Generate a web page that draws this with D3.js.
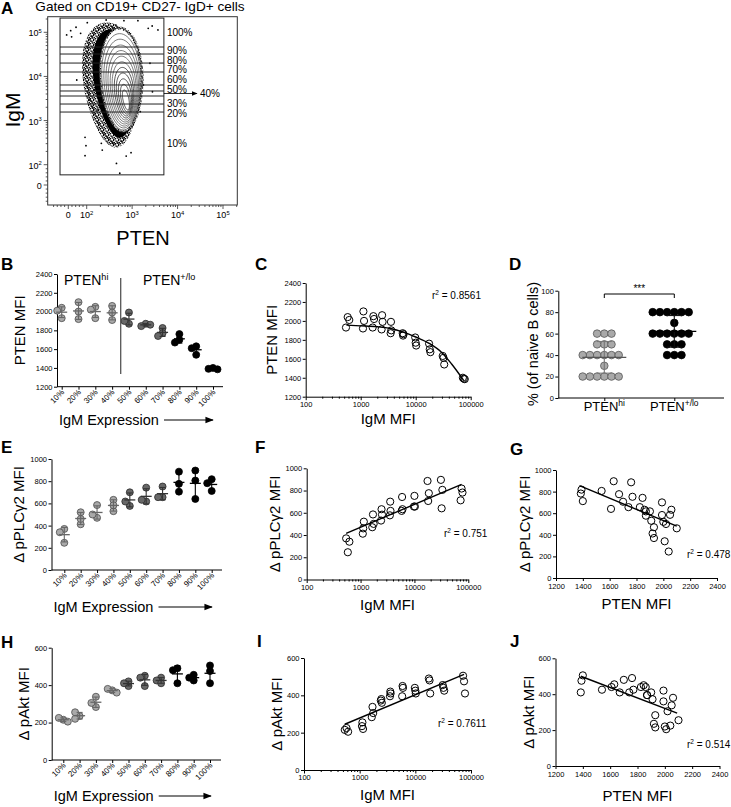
<!DOCTYPE html>
<html>
<head>
<meta charset="utf-8">
<title>PTEN and IgM in naive B cells</title>
<script src="https://d3js.org/d3.v7.min.js"></script>
<style>
  body { margin: 0; background: #fff; }
  text { font-family: "Liberation Sans", Arial, Helvetica, sans-serif; fill: #000; }
</style>
</head>
<body>
<script>
// ---------------- data ----------------
var pctGroups = ["10%", "20%", "30%", "40%", "50%", "60%", "70%", "80%", "90%", "100%"];

// three donors per IgM bin
var igmMFI = [
  [540, 580, 620], [1100, 1120, 1150], [1650, 1700, 1750], [2400, 2450, 2500],
  [3500, 3550, 3600], [5800, 5900, 6000], [9800, 10000, 10200],
  [17500, 18000, 18500], [31000, 32000, 33000], [72000, 75000, 78000]
];
var ptenMFI = [
  [1930, 2040, 2010], [1920, 2100, 2000], [1930, 2050, 2020], [1910, 2060, 1990],
  [1870, 1990, 1900], [1870, 1845, 1860], [1825, 1770, 1740],
  [1760, 1700, 1670], [1630, 1610, 1540], [1400, 1390, 1385]
];
var pplcg2MFI = [
  [370, 245, 340], [412, 460, 520], [470, 585, 500], [530, 632, 583],
  [577, 700, 617], [617, 742, 632], [656, 752, 656],
  [886, 706, 776], [896, 640, 806], [712, 818, 782]
];
var paktMFI = [
  [215, 225, 205], [235, 255, 220], [283, 338, 305], [372, 380, 360],
  [395, 420, 410], [395, 450, 440], [440, 425, 410],
  [490, 480, 410], [455, 440, 425], [505, 475, 410]
];

// fitted curves / lines as drawn
var ptenIgmFit = [[550, 1955], [1000, 1948], [2000, 1938], [3500, 1920], [5800, 1885],
  [10000, 1830], [18000, 1760], [30000, 1665], [45000, 1545], [75000, 1370]];
var plcIgmFit = [[540, 415], [75000, 855]];
var plcPtenFit = [[1375, 855], [2100, 480]];
var aktIgmFit = [[540, 245], [75000, 512]];
var aktPtenFit = [[1385, 500], [2090, 295]];
var r2 = { C: "0.8561", F: "0.751", G: "0.478", I: "0.7611", J: "0.514" };

// panel D: % of naive B cells
var dGroups = ["hi", "lo"];
var dHi = [60, 60, 60, 50, 50, 50, 40, 40, 40, 40, 40, 40, 30, 20, 20, 20, 20, 20, 20];
var dLo = [40, 40, 40, 50, 50, 50, 60, 60, 60, 60, 60, 60, 70, 80, 80, 80, 80, 80, 80];

// panel A: flow plot
var gateLabels = ["100%", "90%", "80%", "70%", "60%", "50%", "40%", "30%", "20%", "10%"];
var gateIgM = [210000, 46400, 32200, 20100, 12600, 6400, 4680, 3600, 2370, 1560, 50];
var gatePTEN = [-45, 5000];
var flowMajor = [0, 1e2, 1e3, 1e4, 1e5];
var flowMinor = [-80, -60, -40, -20, 20, 40, 60, 80,
  200, 300, 400, 500, 600, 700, 800, 900, 2000, 3000, 4000, 5000, 6000, 7000, 8000, 9000,
  20000, 30000, 40000, 50000, 60000, 70000, 80000, 90000, 200000];
// contour levels: [PTEN centre, IgM centre, PTEN half-width (decades), IgM half-height (decades)]
var contours = [
  [569, 8300, 0.462, 1.178], [583, 7550, 0.427, 1.092], [596, 6890, 0.390, 1.006],
  [611, 6220, 0.354, 0.918], [624, 5680, 0.319, 0.832], [640, 5160, 0.282, 0.746],
  [652, 4700, 0.247, 0.659], [668, 4280, 0.209, 0.573], [683, 3900, 0.174, 0.487],
  [700, 3520, 0.139, 0.399], [715, 3210, 0.101, 0.313], [733, 2920, 0.066, 0.227]
];
// extent of the dense dot cloud: speckled rim, solid core
var dotCloud = [[350, 6400, 0.56, 1.36], [420, 6900, 0.46, 1.23]];
var outliers = [[-9, 87000], [13, 109000], [42, 130000], [103, 165000], [268, 190000], [660, 183000],
  [1340, 183000], [2260, 123000], [2760, 139000], [2470, 19900], [2800, 4500], [193, 2140],
  [169, 1740], [91, 418], [96, 270], [91, 160], [220, 215], [452, 107], [740, 157], [946, 187],
  [535, 58], [67, 95000], [1770, 6400], [1510, 1590], [150, 4930], [118, 2920], [439, 146000],
  [3700, 113000], [210, 305], [370, 305], [18, 79000], [46, 8300]];

var logTicks = [100, 1000, 10000, 100000];
var logMinor = [200, 300, 400, 500, 600, 700, 800, 900, 2000, 3000, 4000, 5000, 6000, 7000, 8000, 9000,
  20000, 30000, 40000, 50000, 60000, 70000, 80000, 90000];

// ---------------- drawing ----------------
var svg = d3.select("body").append("svg").attr("width", 731).attr("height", 807);

var defs = svg.append("defs");
defs.append("marker").attr("id", "arr").attr("viewBox", "0 0 10 10").attr("refX", 9).attr("refY", 5)
  .attr("markerWidth", 7).attr("markerHeight", 7).attr("orient", "auto")
  .append("path").attr("d", "M0,1L10,5L0,9Z").attr("fill", "#000");
var speck = defs.append("pattern").attr("id", "speck").attr("width", 5).attr("height", 5)
  .attr("patternUnits", "userSpaceOnUse");
[[1, 1], [3.5, 0.5], [2.5, 3], [0.5, 3.8], [4.3, 2.6], [2, 1.8], [3.8, 4.3]].forEach(function (p) {
  speck.append("circle").attr("cx", p[0]).attr("cy", p[1]).attr("r", 0.8).attr("fill", "#000");
});

function rich(x, y, parts, size, anchor, rot, weight) {
  var t = svg.append("text").attr("font-size", size).attr("text-anchor", anchor || "start");
  if (weight) t.attr("font-weight", weight);
  if (rot) t.attr("transform", "translate(" + x + "," + y + ") rotate(" + rot + ")");
  else t.attr("x", x).attr("y", y);
  var up = false;
  parts.forEach(function (p) {
    var s = t.append("tspan").text(p[0]);
    if (p[1]) { s.attr("font-size", size * 0.65).attr("dy", -size * 0.38); up = true; }
    else if (up) { s.attr("dy", size * 0.38); up = false; }
  });
  return t;
}

function panelLetter(x, y, l) { rich(x, y, [[l]], 17, "start", 0, "bold"); }

var intFmt = d3.format("d");
function yAxis(y, x, ticks) {
  var a = svg.append("g").attr("transform", "translate(" + x + ",0)")
    .call(d3.axisLeft(y).tickValues(ticks).tickFormat(intFmt).tickSize(3).tickSizeOuter(0).tickPadding(1.5));
  a.attr("font-size", 7.5);
  return a;
}

function fillOf(i) { return i < 4 ? "#a9a9a9" : (i < 7 ? "#686868" : "#000"); }
function strokeOf(i) { return i < 4 ? "#4a4a4a" : (i < 7 ? "#2a2a2a" : "#000"); }
function barOf(i) { return i < 4 ? "#666" : (i < 7 ? "#333" : "#000"); }

// spread points of a column so that circles do not sit on top of each other
function swarm(vals, y, step, minDist) {
  var placed = [];
  return vals.map(function (v) {
    var py = y(v), ks = [0, -1, 1, -2, 2, -3, 3, -4, 4];
    for (var j = 0; j < ks.length; j++) {
      var px = ks[j] * step;
      if (placed.every(function (p) { return Math.hypot(p[0] - px, p[1] - py) >= minDist; })) {
        placed.push([px, py]); return [px, v];
      }
    }
    return [0, v];
  });
}

function arrowLabel(x0, yb, arrowFrom, arrowTo) {
  rich(x0, yb, [["IgM Expression"]], 14.5, "start");
  svg.append("line").attr("x1", arrowFrom).attr("x2", arrowTo).attr("y1", yb - 5).attr("y2", yb - 5)
    .attr("stroke", "#000").attr("stroke-width", 1.2).attr("marker-end", "url(#arr)");
}

function dotPanel(o) {
  var x = d3.scalePoint().domain(pctGroups).range(o.xr);
  var y = d3.scaleLinear().domain(o.yd).range([o.y0, o.y1]);
  yAxis(y, o.ax, o.ticks);
  var xa = svg.append("g").attr("transform", "translate(0," + o.y0 + ")")
    .call(d3.axisBottom(x).tickSize(3).tickFormat(""));
  xa.select(".domain").attr("d", "M" + o.ax + ",0H" + o.axEnd);
  svg.append("g").selectAll("text").data(pctGroups).join("text")
    .attr("transform", function (d) { return "translate(" + (x(d) + 3) + "," + (o.y0 + 6) + ") rotate(-45)"; })
    .attr("text-anchor", "end").attr("font-size", 8).text(function (d) { return d; });
  o.vals.forEach(function (vs, i) {
    var cx = x(pctGroups[i]);
    var pts = swarm(vs, y, 4.5, 4.5);
    svg.append("g").selectAll("circle").data(pts).join("circle")
      .attr("cx", function (p) { return cx + p[0]; }).attr("cy", function (p) { return y(p[1]); })
      .attr("r", 3.5).attr("fill", fillOf(i)).attr("stroke", strokeOf(i)).attr("stroke-width", 0.8);
    var m = d3.mean(vs), sd = d3.deviation(vs), c = barOf(i);
    var b = svg.append("g").attr("stroke", c).attr("stroke-width", 1.1);
    b.append("line").attr("x1", cx).attr("x2", cx).attr("y1", y(m - sd)).attr("y2", y(m + sd));
    [m - sd, m + sd].forEach(function (v) {
      b.append("line").attr("x1", cx - 3).attr("x2", cx + 3).attr("y1", y(v)).attr("y2", y(v));
    });
    b.append("line").attr("x1", cx - 5.5).attr("x2", cx + 5.5).attr("y1", y(m)).attr("y2", y(m))
      .attr("stroke-width", 1.3);
  });
  rich(o.titleX, (o.y0 + o.y1) / 2, o.title, 15, "middle", -90);
  arrowLabel(o.ax + 2, o.labelY, o.ax + 107, o.axEnd - 10);
  return { x: x, y: y };
}

function logAxis(x, y0) {
  svg.append("g").attr("transform", "translate(0," + y0 + ")")
    .call(d3.axisBottom(x).tickValues(logMinor).tickSize(2).tickSizeOuter(0).tickFormat(""));
  var b = svg.append("g").attr("transform", "translate(0," + y0 + ")")
    .call(d3.axisBottom(x).tickValues(logTicks).tickSize(3.5).tickSizeOuter(0).tickPadding(1.5)
      .tickFormat(intFmt));
  b.attr("font-size", 7.5);
  b.select(".domain").remove();
}

function scatterPanel(o) {
  var x = o.log ? d3.scaleLog().domain([100, 100000]).range(o.xr)
                : d3.scaleLinear().domain([1200, 2400]).range(o.xr);
  var y = d3.scaleLinear().domain(o.yd).range([o.y0, o.y1]);
  yAxis(y, o.xr[0], o.ticks);
  if (o.log) logAxis(x, o.y0);
  else {
    var a = svg.append("g").attr("transform", "translate(0," + o.y0 + ")")
      .call(d3.axisBottom(x).tickValues(d3.range(1200, 2401, 200)).tickFormat(intFmt)
        .tickSize(3).tickSizeOuter(0).tickPadding(3));
    a.attr("font-size", 7.5);
  }
  svg.append("g").selectAll("circle").data(o.pts).join("circle")
    .attr("cx", function (d) { return x(d[0]); }).attr("cy", function (d) { return y(d[1]); })
    .attr("r", 3.6).attr("fill", "none").attr("stroke", "#000").attr("stroke-width", 1);
  var line = d3.line().x(function (d) { return x(d[0]); }).y(function (d) { return y(d[1]); })
    .curve(d3.curveMonotoneX);
  svg.append("path").attr("d", line(o.fit)).attr("fill", "none").attr("stroke", "#000").attr("stroke-width", 1.4);
  rich(o.r2x, o.r2y, [["r"], ["2", true], [" = " + o.r2]], 10, "start");
  rich((o.xr[0] + o.xr[1]) / 2, o.xTitleY, [[o.xTitle]], 15, "middle");
  rich(o.titleX, (o.y0 + o.y1) / 2, o.title, 15, "middle", -90);
}

function pairs(a, b) {
  var out = [];
  a.forEach(function (g, i) { g.forEach(function (v, j) { out.push([v, b[i][j]]); }); });
  return out;
}

// ---------------- panel A ----------------
var fxLog = d3.scaleLog().domain([100, 1e5]).range([86.7, 223]);
var fxLin = d3.scaleLinear().domain([0, 100]).range([68.3, 86.7]);
var fyLog = d3.scaleLog().domain([100, 1e5]).range([164.7, 32.3]);
var fyLin = d3.scaleLinear().domain([0, 100]).range([185, 164.7]);
function fx(v) { return v >= 100 ? fxLog(v) : fxLin(v); }
function fy(v) { return v >= 100 ? fyLog(v) : fyLin(v); }

panelLetter(1, 14, "A");
rich(140, 11, [["Gated on CD19+ CD27- IgD+ cells"]], 13.6, "middle");
var frame = { x0: 47.7, x1: 237.3, y0: 16.7, y1: 205 };

function blob(c, egg, shear) {
  return d3.range(73).map(function (k) {
    var t = k / 72 * 2 * Math.PI, u = Math.cos(t), w = Math.sin(t);
    var dx = c[2] * u * (1 - egg * w) + shear * w, dy = -c[3] * w;
    return [fx(c[0] * Math.pow(10, dx)), fy(c[1] * Math.pow(10, dy))];
  });
}
var blobLine = d3.line().curve(d3.curveCardinalClosed);
var flow = svg.append("g");
flow.append("path").attr("d", blobLine(blob(dotCloud[0], 0.2, 0.1)))
  .attr("fill", "url(#speck)").attr("stroke", "url(#speck)").attr("stroke-width", 5);
flow.append("path").attr("d", blobLine(blob(dotCloud[1], 0.2, 0.1))).attr("fill", "#000");
flow.append("path").attr("d", blobLine(blob(contours[0], 0.1, 0.04))).attr("fill", "#fff")
  .attr("stroke", "url(#speck)").attr("stroke-width", 3);
flow.selectAll("path.ct").data(contours).join("path").attr("class", "ct")
  .attr("d", function (c) { return blobLine(blob(c, 0.1, 0.04)); }).attr("fill", "none")
  .attr("stroke", function (c, i) { return i > 6 ? "#111" : "#444"; }).attr("stroke-width", 0.7);
flow.selectAll("circle").data(outliers).join("circle")
  .attr("cx", function (d) { return fx(d[0]); }).attr("cy", function (d) { return fy(d[1]); })
  .attr("r", 0.9).attr("fill", "#000");

svg.append("rect").attr("x", frame.x0).attr("y", frame.y0).attr("width", frame.x1 - frame.x0)
  .attr("height", frame.y1 - frame.y0).attr("fill", "none").attr("stroke", "#333").attr("stroke-width", 1);
// gate
var gx0 = fx(gatePTEN[0]), gx1 = fx(gatePTEN[1]);
svg.append("rect").attr("x", gx0).attr("y", fy(gateIgM[0])).attr("width", gx1 - gx0)
  .attr("height", fy(gateIgM[10]) - fy(gateIgM[0])).attr("fill", "none").attr("stroke", "#222").attr("stroke-width", 1);
svg.append("g").selectAll("line").data(gateIgM.slice(1, 10)).join("line")
  .attr("x1", gx0).attr("x2", gx1).attr("y1", function (d) { return fy(d); }).attr("y2", function (d) { return fy(d); })
  .attr("stroke", "#222").attr("stroke-width", 1);
var lastY = -1e9;
gateLabels.forEach(function (l, i) {
  var ym = (fy(gateIgM[i]) + fy(gateIgM[i + 1])) / 2;
  if (l === "40%") {
    svg.append("line").attr("x1", gx1).attr("x2", 197).attr("y1", ym).attr("y2", ym)
      .attr("stroke", "#000").attr("stroke-width", 0.8).attr("marker-end", "url(#arr)");
    rich(200, ym + 3.6, [[l]], 10, "start");
    lastY += 4.8;
  } else {
    ym = Math.max(ym, lastY + 9.6);
    lastY = ym;
    rich(gx1 + 3, ym + 3.6, [[l]], 10, "start");
  }
});
// flow axes
var tk = svg.append("g").attr("stroke", "#333").attr("stroke-width", 0.8);
flowMajor.concat(flowMinor).forEach(function (v) {
  var major = flowMajor.indexOf(v) >= 0, L = major ? 4 : 2;
  if (fx(v) > frame.x0 && fx(v) < frame.x1)
    tk.append("line").attr("x1", fx(v)).attr("x2", fx(v)).attr("y1", frame.y1).attr("y2", frame.y1 + L);
  if (fy(v) > frame.y0 && fy(v) < frame.y1)
    tk.append("line").attr("x1", frame.x0).attr("x2", frame.x0 - L).attr("y1", fy(v)).attr("y2", fy(v));
});
flowMajor.forEach(function (v) {
  var parts = v === 0 ? [["0"]] : [["10"], [String(Math.round(Math.log10(v))), true]];
  rich(fx(v), frame.y1 + 13, parts, 9, "middle");
  rich(frame.x0 - 6, fy(v) + 4, parts, 9, "end");
});
rich(20, 110, [["IgM"]], 21, "middle", -90);
rich(143, 245, [["PTEN"]], 20, "middle");

// ---------------- panel B ----------------
panelLetter(1, 270, "B");
dotPanel({ vals: ptenMFI, xr: [61.7, 213], ax: 57, axEnd: 223, yd: [1200, 2400], y0: 386.7, y1: 274,
  ticks: d3.range(1200, 2401, 200), title: [["PTEN MFI"]], titleX: 25, labelY: 425 });
svg.append("line").attr("x1", 120.7).attr("x2", 120.7).attr("y1", 278).attr("y2", 374)
  .attr("stroke", "#555").attr("stroke-width", 1.3);
rich(64, 285, [["PTEN"], ["hi", true]], 14, "start");
rich(143, 285, [["PTEN"], ["+/lo", true]], 14, "start");

// ---------------- panel C ----------------
panelLetter(255, 270, "C");
scatterPanel({ log: true, xr: [305.7, 470.7], yd: [1200, 2400], y0: 396.7, y1: 283, ticks: d3.range(1200, 2401, 200),
  pts: pairs(igmMFI, ptenMFI), fit: ptenIgmFit, r2: r2.C, r2x: 432, r2y: 299,
  xTitle: "IgM MFI", xTitleY: 424, title: [["PTEN MFI"]], titleX: 277 });

// ---------------- panel D ----------------
panelLetter(509, 270, "D");
(function () {
  var x = d3.scalePoint().domain(dGroups).range([604.3, 674.3]);
  var y = d3.scaleLinear().domain([0, 100]).range([398, 290.7]);
  yAxis(y, 558.3, d3.range(0, 101, 20));
  var xa = svg.append("g").attr("transform", "translate(0,398)")
    .call(d3.axisBottom(x).tickSize(3).tickFormat(""));
  xa.select(".domain").attr("d", "M558.3,0H724");
  [dHi, dLo].forEach(function (vs, i) {
    var cx = x(dGroups[i]);
    var pts = swarm(vs, y, 7.2, 7.2);
    svg.append("g").selectAll("circle").data(pts).join("circle")
      .attr("cx", function (p) { return cx + p[0]; }).attr("cy", function (p) { return y(p[1]); })
      .attr("r", 3.8).attr("fill", i ? "#000" : "#a9a9a9").attr("stroke", i ? "#000" : "#555").attr("stroke-width", 0.8);
    var m = d3.mean(vs), sd = d3.deviation(vs);
    var b = svg.append("g").attr("stroke", i ? "#111" : "#777").attr("stroke-width", 1.1);
    b.append("line").attr("x1", cx).attr("x2", cx).attr("y1", y(m - sd)).attr("y2", y(m + sd));
    [m - sd, m + sd].forEach(function (v) {
      b.append("line").attr("x1", cx - 7.5).attr("x2", cx + 7.5).attr("y1", y(v)).attr("y2", y(v));
    });
    b.append("line").attr("x1", cx - 22).attr("x2", cx + 22).attr("y1", y(m)).attr("y2", y(m))
      .attr("stroke", i ? "#000" : "#555").attr("stroke-width", 1.3);
  });
  svg.append("path").attr("d", "M" + x("hi") + ",298V294H" + x("lo") + "V298")
    .attr("fill", "none").attr("stroke", "#000").attr("stroke-width", 1);
  rich((x("hi") + x("lo")) / 2, 292, [["***"]], 10, "middle");
  rich(x("hi"), 411, [["PTEN"], ["hi", true]], 13, "middle");
  rich(x("lo"), 411, [["PTEN"], ["+/lo", true]], 13, "middle");
  rich(538, 344, [["% (of naive B cells)"]], 14.5, "middle", -90);
})();

// ---------------- panel E ----------------
panelLetter(1, 453, "E");
dotPanel({ vals: pplcg2MFI, xr: [64.3, 211.7], ax: 51.5, axEnd: 222, yd: [0, 1000], y0: 570, y1: 459,
  ticks: d3.range(0, 1001, 200), title: [["Δ pPLCγ2 MFI"]], titleX: 24, labelY: 612 });

// ---------------- panel F ----------------
panelLetter(255, 453, "F");
scatterPanel({ log: true, xr: [306.7, 468.3], yd: [0, 1000], y0: 579.5, y1: 468.3, ticks: d3.range(0, 1001, 200),
  pts: pairs(igmMFI, pplcg2MFI), fit: plcIgmFit, r2: r2.F, r2x: 444, r2y: 537,
  xTitle: "IgM MFI", xTitleY: 610, title: [["Δ pPLCγ2 MFI"]], titleX: 280 });

// ---------------- panel G ----------------
panelLetter(510, 455, "G");
scatterPanel({ log: false, xr: [556, 717], yd: [0, 1000], y0: 578, y1: 470, ticks: d3.range(0, 1001, 200),
  pts: pairs(ptenMFI, pplcg2MFI), fit: plcPtenFit, r2: r2.G, r2x: 687, r2y: 558,
  xTitle: "PTEN MFI", xTitleY: 609, title: [["Δ pPLCγ2 MFI"]], titleX: 530 });

// ---------------- panel H ----------------
panelLetter(1, 648, "H");
dotPanel({ vals: paktMFI, xr: [63.3, 210], ax: 51.7, axEnd: 221, yd: [0, 600], y0: 760, y1: 647.7,
  ticks: d3.range(0, 601, 200), title: [["Δ pAkt MFI"]], titleX: 29, labelY: 801 });

// ---------------- panel I ----------------
panelLetter(257, 647, "I");
scatterPanel({ log: true, xr: [304, 471], yd: [0, 600], y0: 770, y1: 658, ticks: d3.range(0, 601, 200),
  pts: pairs(igmMFI, paktMFI), fit: aktIgmFit, r2: r2.I, r2x: 438, r2y: 727,
  xTitle: "IgM MFI", xTitleY: 800, title: [["Δ pAkt MFI"]], titleX: 282 });

// ---------------- panel J ----------------
panelLetter(510, 647, "J");
scatterPanel({ log: false, xr: [555.5, 719.5], yd: [0, 600], y0: 766, y1: 658.3, ticks: d3.range(0, 601, 200),
  pts: pairs(ptenMFI, paktMFI), fit: aktPtenFit, r2: r2.J, r2x: 687, r2y: 748,
  xTitle: "PTEN MFI", xTitleY: 801, title: [["Δ pAkt MFI"]], titleX: 534 });
</script>
</body>
</html>
